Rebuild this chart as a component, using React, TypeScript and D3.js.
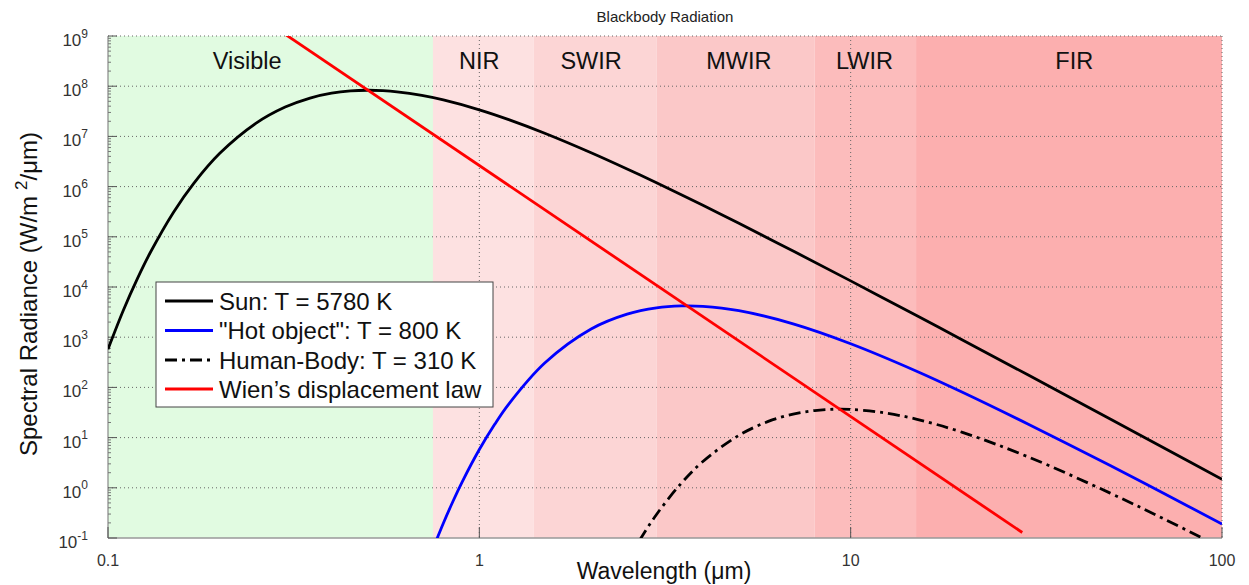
import React from 'react';
import * as d3 from 'd3';

const W = 1249;
const H = 585;
const PLOT = { left: 108, right: 1222, top: 36, bottom: 538 };

// Sun: T = 5780 K (wavelength in µm, radiance in W/m²/µm)
const sunWavelength = [0.1, 0.11, 0.12, 0.13, 0.15, 0.17, 0.2, 0.25, 0.3, 0.35, 0.4, 0.45, 0.5, 0.55, 0.6, 0.7, 0.8, 1.0, 1.2, 1.5, 2, 2.5, 3, 4, 5, 7, 10, 15, 20, 30, 50, 70, 100];
const sunRadiance = [578, 3450, 14700, 48600, 306000, 1.15e6, 4.6e6, 1.815e7, 3.835e7, 5.81e7, 7.26e7, 8.06e7, 8.3e7, 8.14e7, 7.72e7, 6.54e7, 5.32e7, 3.385e7, 2.16e7, 1.157e7, 4.73e6, 2.245e6, 1.191e6, 4.23e5, 1.856e5, 5.21e4, 1.324e4, 2730, 882, 178, 23.5, 6.15, 1.48];

// "Hot object": T = 800 K
const hotWavelength = [0.75, 0.8, 0.85, 0.9, 1.0, 1.1, 1.2, 1.5, 2, 2.5, 3, 3.5, 4, 5, 7, 10, 15, 20, 30, 50, 70, 100];
const hotRadiance = [0.0608, 0.197, 0.546, 1.33, 5.78, 18.4, 46.6, 306, 1455, 2877, 3845, 4203, 4121, 3375, 1846, 742, 213, 80.2, 18.7, 2.77, 0.76, 0.19];

// Human-Body: T = 310 K
const humanWavelength = [2.5, 2.7, 3, 3.5, 4, 5, 6, 7, 8, 9, 10, 12, 15, 20, 30, 50, 70, 100];
const humanRadiance = [0.0332, 0.0893, 0.294, 1.24, 3.34, 11.1, 21.0, 29.4, 34.6, 36.7, 36.4, 32.1, 23.4, 12.7, 4.16, 0.783, 0.237, 0.0633];

// Wien's displacement law
const wienWavelength = [0.2898, 28.98];
const wienRadiance = [1.287e9, 0.1287];

const bandNames = ['Visible', 'NIR', 'SWIR', 'MWIR', 'LWIR', 'FIR'];
const bandStart = [0.1, 0.75, 1.4, 3, 8, 15];
const bandEnd = [0.75, 1.4, 3, 8, 15, 100];
const bandLabelAt = [0.237, 1.0, 2.0, 5.0, 10.9, 40];
const bandColors = ['#e1fbe1', '#fde1e1', '#fcd5d5', '#fbc8c8', '#fcbcbc', '#fcafaf'];

const xTickValues = [0.1, 1, 10, 100];
const xTickLabels = ['0.1', '1', '10', '100'];
const yExponents = [-1, 0, 1, 2, 3, 4, 5, 6, 7, 8, 9];

const legendLabels = ['Sun: T = 5780 K', '"Hot object": T = 800 K', 'Human-Body: T = 310 K', 'Wien\u2019s displacement law'];
const legendColors = ['#000000', '#0000ff', '#000000', '#ff0000'];
const legendDash = ['none', 'none', '12,5,3,5', 'none'];

const FONT = 'Liberation Sans, Arial, Helvetica, sans-serif';

export default function App() {
  const x = d3.scaleLog().domain([0.1, 100]).range([PLOT.left, PLOT.right]);
  const y = d3.scaleLog().domain([0.1, 1e9]).range([PLOT.bottom, PLOT.top]);
  const line = d3
    .line<[number, number]>()
    .x((d) => x(d[0]))
    .y((d) => y(d[1]))
    .curve(d3.curveCatmullRom.alpha(0.5));

  const zip = (a: number[], b: number[]) => a.map((v, i) => [v, b[i]] as [number, number]);
  const series = [
    { d: line(zip(sunWavelength, sunRadiance)), color: '#000', dash: 'none' },
    { d: line(zip(hotWavelength, hotRadiance)), color: '#0000ff', dash: 'none' },
    { d: line(zip(humanWavelength, humanRadiance)), color: '#000', dash: '12,5,3,5' },
    { d: d3.line<[number, number]>().x((d) => x(d[0])).y((d) => y(d[1]))(zip(wienWavelength, wienRadiance)), color: '#ff0000', dash: 'none' },
  ];

  const minorY: number[] = [];
  for (let e = -1; e < 9; e++) for (let m = 2; m <= 9; m++) minorY.push(m * Math.pow(10, e));

  const gridColor = '#666';
  const gridDash = '1,3';

  const legend = { x: 156, y: 282, w: 337, h: 125 };
  const rowY = [301, 330.5, 360, 389];

  return (
    <svg width={W} height={H} style={{ position: 'absolute', left: 0, top: 0, display: 'block', background: '#fff' }} fontFamily={FONT}>
      <defs>
        <clipPath id="plotClip">
          <rect x={PLOT.left} y={PLOT.top} width={PLOT.right - PLOT.left} height={PLOT.bottom - PLOT.top} />
        </clipPath>
      </defs>
      {/* bands */}
      {bandNames.map((n, i) => (
        <rect key={n} x={x(bandStart[i])} y={PLOT.top} width={x(bandEnd[i]) - x(bandStart[i])} height={PLOT.bottom - PLOT.top} fill={bandColors[i]} />
      ))}
      {/* horizontal grid */}
      {yExponents.filter((e) => e >= 0).map((e) => (
        <line key={'gy' + e} x1={PLOT.left} x2={PLOT.right} y1={y(Math.pow(10, e))} y2={y(Math.pow(10, e))} stroke={gridColor} strokeWidth={1} strokeDasharray={gridDash} />
      ))}
      {/* vertical grid */}
      {xTickValues.slice(1).map((v) => (
        <line key={'gx' + v} x1={x(v)} x2={x(v)} y1={PLOT.top} y2={PLOT.bottom} stroke={gridColor} strokeWidth={1} strokeDasharray={gridDash} />
      ))}
      {/* axes */}
      <line x1={PLOT.left} x2={PLOT.left} y1={PLOT.top} y2={PLOT.bottom} stroke="#888" strokeWidth={1.2} />
      <line x1={PLOT.left} x2={PLOT.right} y1={PLOT.bottom} y2={PLOT.bottom} stroke="#999" strokeWidth={1.5} />
      {minorY.map((v, i) => (
        <line key={'my' + i} x1={PLOT.left} x2={PLOT.left + 3} y1={y(v)} y2={y(v)} stroke="#777" strokeWidth={1} />
      ))}
      {yExponents.map((e) => (
        <line key={'ty' + e} x1={PLOT.left} x2={PLOT.left + 9} y1={y(Math.pow(10, e))} y2={y(Math.pow(10, e))} stroke="#555" strokeWidth={1} />
      ))}
      {xTickValues.map((v) => (
        <line key={'tx' + v} x1={x(v)} x2={x(v)} y1={PLOT.bottom} y2={PLOT.bottom - 11} stroke="#555" strokeWidth={1} />
      ))}
      {/* curves */}
      <g clipPath="url(#plotClip)">
        {series.map((s, i) => (
          <path key={'s' + i} d={s.d || ''} fill="none" stroke={s.color} strokeWidth={2.8} strokeDasharray={s.dash} strokeLinejoin="round" />
        ))}
      </g>
      {/* band labels */}
      {bandNames.map((n, i) => (
        <text key={'bl' + n} x={x(bandLabelAt[i])} y={69} textAnchor="middle" fontSize={23.5} fill="#111">
          {n}
        </text>
      ))}
      {/* tick labels */}
      {xTickValues.map((v, i) => (
        <text key={'xl' + v} x={x(v)} y={566} textAnchor="middle" fontSize={16} fill="#333">
          {xTickLabels[i]}
        </text>
      ))}
      {yExponents.map((e) => (
        <text key={'yl' + e} x={88} y={y(Math.pow(10, e)) + 10} textAnchor="end" fontSize={17} fill="#333">
          10
          <tspan fontSize={12} dy={-8.5}>
            {String(e)}
          </tspan>
        </text>
      ))}
      {/* title and axis labels */}
      <text x={(PLOT.left + PLOT.right) / 2} y={22} textAnchor="middle" fontSize={15} fill="#222">
        Blackbody Radiation
      </text>
      <text x={664} y={579} textAnchor="middle" fontSize={23} fill="#111">
        Wavelength (μm)
      </text>
      <text transform="translate(37,294) rotate(-90)" textAnchor="middle" fontSize={24} fill="#111">
        Spectral Radiance (W/m
        <tspan fontSize={17} dy={-10} dx={6}>2</tspan>
        <tspan dy={10}>/μm)</tspan>
      </text>
      {/* legend */}
      <rect x={legend.x} y={legend.y} width={legend.w} height={legend.h} fill="#fff" stroke="#444" strokeWidth={1} />
      {legendLabels.map((l, i) => (
        <g key={'lg' + i}>
          <line x1={165} x2={213} y1={rowY[i]} y2={rowY[i]} stroke={legendColors[i]} strokeWidth={3} strokeDasharray={legendDash[i]} />
          <text x={219} y={rowY[i] + 8.5} fontSize={24} fill="#111">
            {l}
          </text>
        </g>
      ))}
    </svg>
  );
}
